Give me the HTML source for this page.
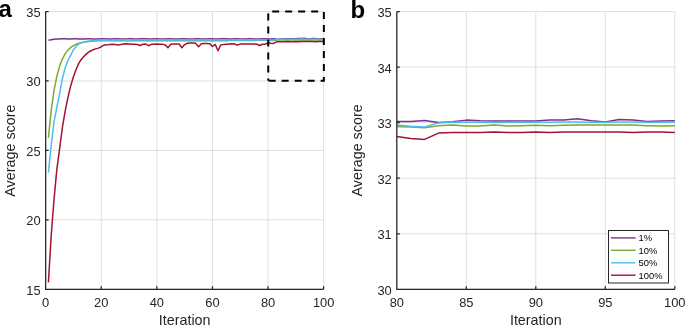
<!DOCTYPE html>
<html lang="en"><head><meta charset="utf-8"><title>Average score vs iteration</title>
<style>html,body{margin:0;padding:0;background:#fff}body{width:685px;height:325px;overflow:hidden}svg{display:block}text{font-family:"Liberation Sans",Arial,Helvetica,sans-serif;fill:#262626}.tk{font-size:12.9px}.lb{font-size:14.33px}.pn{font-size:24px;font-weight:bold;fill:#000}.lg{font-size:9.4px;fill:#000}.grid line{stroke:#dfdfdf;stroke-width:1}.axis{stroke:#262626;stroke-width:1.25;fill:none}.ln{fill:none;stroke-width:1.5;stroke-linejoin:round}</style></head><body>
<svg width="685" height="325" viewBox="0 0 685 325">
<rect width="685" height="325" fill="#fff"/>
<g class="grid">
<line x1="45.65" y1="11.55" x2="45.65" y2="289.30"/>
<line x1="101.25" y1="11.55" x2="101.25" y2="289.30"/>
<line x1="156.85" y1="11.55" x2="156.85" y2="289.30"/>
<line x1="212.45" y1="11.55" x2="212.45" y2="289.30"/>
<line x1="268.05" y1="11.55" x2="268.05" y2="289.30"/>
<line x1="323.65" y1="11.55" x2="323.65" y2="289.30"/>
<line x1="45.65" y1="11.55" x2="323.65" y2="11.55"/>
<line x1="45.65" y1="80.99" x2="323.65" y2="80.99"/>
<line x1="45.65" y1="150.43" x2="323.65" y2="150.43"/>
<line x1="45.65" y1="219.86" x2="323.65" y2="219.86"/>
<line x1="45.65" y1="289.30" x2="323.65" y2="289.30"/>
</g>
<path class="ln" stroke="#7E2F8E" d="M48.43 40.16 L51.21 39.74 L53.99 39.33 L56.77 39.05 L59.55 38.91 L62.33 38.74 L65.11 38.86 L67.89 39.05 L70.67 39.04 L73.45 38.84 L76.23 38.74 L79.01 38.89 L81.79 39.06 L84.57 39.01 L87.35 38.81 L90.13 38.75 L92.91 38.93 L95.69 39.07 L98.47 38.98 L101.25 38.78 L104.03 38.77 L106.81 38.96 L109.59 39.07 L112.37 38.94 L115.15 38.76 L117.93 38.79 L120.71 38.99 L123.49 39.07 L126.27 38.91 L129.05 38.75 L131.83 38.82 L134.61 39.02 L137.39 39.06 L140.17 38.87 L142.95 38.74 L145.73 38.86 L148.51 39.05 L151.29 39.04 L154.07 38.84 L156.85 38.74 L159.63 38.89 L162.41 39.06 L165.19 39.01 L167.97 38.81 L170.75 38.75 L173.53 38.93 L176.31 39.07 L179.09 38.98 L181.87 38.78 L184.65 38.77 L187.43 38.96 L190.21 39.07 L192.99 38.94 L195.77 38.76 L198.55 38.79 L201.33 38.99 L204.11 39.07 L206.89 38.91 L209.67 38.75 L212.45 38.82 L215.23 39.02 L218.01 39.06 L220.79 38.87 L223.57 38.74 L226.35 38.86 L229.13 39.05 L231.91 39.04 L234.69 38.84 L237.47 38.74 L240.25 38.89 L243.03 39.06 L245.81 39.01 L248.59 38.81 L251.37 38.75 L254.15 38.93 L256.93 39.07 L259.71 38.98 L262.49 38.78 L265.27 38.77 L268.05 38.95 L270.83 39.01 L273.61 38.71 L276.39 39.24 L279.17 39.05 L281.95 38.63 L284.73 38.77 L287.51 38.83 L290.29 38.83 L293.07 38.83 L295.85 38.83 L298.63 38.59 L301.41 38.59 L304.19 38.30 L306.97 38.77 L309.75 39.09 L312.53 38.49 L315.31 38.59 L318.09 38.95 L320.87 38.83 L323.65 38.77"/>
<path class="ln" stroke="#77AC30" d="M48.43 137.93 L51.21 110.37 L53.99 90.62 L56.77 76.48 L59.55 66.34 L62.33 59.07 L65.11 53.87 L67.89 50.14 L70.67 47.47 L73.45 45.55 L76.23 44.18 L79.01 43.20 L81.79 42.49 L84.57 41.99 L87.35 41.63 L90.13 41.37 L92.91 41.18 L95.69 40.85 L98.47 40.82 L101.25 40.78 L104.03 40.75 L106.81 40.71 L109.59 40.71 L112.37 40.71 L115.15 40.71 L117.93 40.71 L120.71 40.71 L123.49 40.71 L126.27 40.71 L129.05 40.71 L131.83 40.71 L134.61 40.71 L137.39 40.71 L140.17 40.71 L142.95 40.71 L145.73 40.71 L148.51 40.71 L151.29 40.71 L154.07 40.71 L156.85 40.71 L159.63 40.71 L162.41 40.71 L165.19 40.71 L167.97 40.71 L170.75 40.71 L173.53 40.71 L176.31 40.71 L179.09 40.71 L181.87 40.71 L184.65 40.71 L187.43 40.71 L190.21 40.71 L192.99 40.71 L195.77 40.71 L198.55 40.71 L201.33 40.71 L204.11 40.71 L206.89 40.71 L209.67 40.71 L212.45 40.71 L215.23 40.69 L218.01 40.67 L220.79 40.65 L223.57 40.63 L226.35 40.60 L229.13 40.58 L231.91 40.56 L234.69 40.54 L237.47 40.52 L240.25 40.49 L243.03 40.47 L245.81 40.45 L248.59 40.43 L251.37 40.41 L254.15 40.38 L256.93 40.36 L259.71 40.34 L262.49 40.32 L265.27 40.30 L268.05 40.24 L270.83 40.38 L273.61 40.55 L276.39 40.02 L279.17 39.82 L281.95 40.10 L284.73 40.10 L287.51 39.82 L290.29 40.10 L293.07 40.02 L295.85 39.91 L298.63 40.05 L301.41 39.91 L304.19 39.88 L306.97 39.88 L309.75 39.88 L312.53 39.88 L315.31 39.88 L318.09 40.02 L320.87 40.10 L323.65 40.02"/>
<path class="ln" stroke="#4DBEEE" d="M48.43 172.65 L51.21 145.20 L53.99 121.79 L56.77 107.75 L59.55 93.79 L62.33 78.81 L65.11 68.02 L67.89 60.63 L70.67 55.42 L73.45 49.67 L76.23 46.28 L79.01 43.94 L81.79 42.69 L84.57 41.90 L87.35 41.33 L90.13 40.97 L92.91 40.71 L95.69 40.57 L98.47 40.47 L101.25 40.37 L104.03 40.26 L106.81 40.16 L109.59 40.15 L112.37 40.14 L115.15 40.13 L117.93 40.12 L120.71 40.11 L123.49 40.11 L126.27 40.10 L129.05 40.09 L131.83 40.09 L134.61 40.09 L137.39 40.09 L140.17 40.09 L142.95 40.09 L145.73 40.09 L148.51 40.09 L151.29 40.09 L154.07 40.09 L156.85 40.09 L159.63 40.09 L162.41 40.09 L165.19 40.09 L167.97 40.09 L170.75 40.09 L173.53 40.09 L176.31 40.09 L179.09 40.09 L181.87 40.09 L184.65 40.09 L187.43 40.09 L190.21 40.09 L192.99 40.09 L195.77 40.09 L198.55 40.09 L201.33 40.09 L204.11 40.09 L206.89 40.09 L209.67 40.09 L212.45 40.09 L215.23 40.09 L218.01 40.09 L220.79 40.09 L223.57 40.09 L226.35 41.13 L229.13 40.09 L231.91 40.07 L234.69 40.06 L237.47 40.04 L240.25 40.02 L243.03 40.01 L245.81 39.99 L248.59 39.98 L251.37 39.96 L254.15 39.94 L256.93 39.93 L259.71 39.91 L262.49 39.90 L265.27 39.88 L268.05 39.82 L270.83 40.16 L273.61 40.35 L276.39 39.33 L279.17 39.19 L281.95 39.09 L284.73 39.14 L287.51 39.21 L290.29 39.19 L293.07 39.19 L295.85 39.19 L298.63 39.19 L301.41 39.12 L304.19 39.12 L306.97 39.14 L309.75 39.14 L312.53 39.09 L315.31 39.09 L318.09 39.19 L320.87 39.19 L323.65 39.19"/>
<path class="ln" stroke="#A2142F" d="M48.43 282.36 L51.21 235.20 L53.99 199.86 L56.77 169.95 L59.55 149.36 L62.33 127.66 L65.11 111.29 L67.89 97.78 L70.67 85.93 L73.45 76.66 L76.23 69.01 L79.01 62.93 L81.79 58.76 L84.57 55.65 L87.35 53.12 L90.13 51.23 L92.91 49.83 L95.69 48.87 L98.47 48.11 L101.25 46.73 L104.03 45.02 L106.81 44.88 L109.59 44.46 L112.37 44.19 L115.15 44.60 L117.93 45.02 L120.71 44.60 L123.49 44.05 L126.27 43.77 L129.05 44.05 L131.83 44.32 L134.61 44.19 L137.39 44.46 L140.17 45.44 L142.95 44.32 L145.73 44.05 L148.51 45.71 L151.29 44.32 L154.07 44.19 L156.85 44.05 L159.63 44.19 L162.41 44.32 L165.19 44.88 L167.97 47.80 L170.75 44.32 L173.53 43.91 L176.31 43.91 L179.09 44.05 L181.87 47.80 L184.65 44.60 L187.43 43.21 L190.21 43.07 L192.99 43.07 L195.77 43.35 L198.55 46.82 L201.33 43.77 L204.11 43.49 L206.89 43.49 L209.67 43.63 L212.45 46.41 L215.23 44.46 L218.01 50.71 L220.79 44.88 L223.57 44.46 L226.35 44.19 L229.13 43.91 L231.91 43.77 L234.69 44.05 L237.47 45.16 L240.25 44.05 L243.03 43.91 L245.81 43.91 L248.59 44.05 L251.37 44.05 L254.15 43.91 L256.93 44.32 L259.71 45.44 L262.49 44.32 L265.27 44.19 L268.05 42.74 L270.83 43.24 L273.61 43.45 L276.39 41.87 L279.17 41.73 L281.95 41.73 L284.73 41.73 L287.51 41.57 L290.29 41.73 L293.07 41.73 L295.85 41.57 L298.63 41.73 L301.41 41.57 L304.19 41.57 L306.97 41.57 L309.75 41.57 L312.53 41.57 L315.31 41.73 L318.09 41.57 L320.87 41.57 L323.65 41.73"/>
<path class="axis" d="M45.65 11.55 V289.30 H323.65 M45.65 289.30 v-3 M101.25 289.30 v-3 M156.85 289.30 v-3 M212.45 289.30 v-3 M268.05 289.30 v-3 M323.65 289.30 v-3 M45.65 11.55 h3 M45.65 80.99 h3 M45.65 150.43 h3 M45.65 219.86 h3 M45.65 289.30 h3"/>
<text class="tk" x="45.65" y="306.60" text-anchor="middle">0</text>
<text class="tk" x="101.25" y="306.60" text-anchor="middle">20</text>
<text class="tk" x="156.85" y="306.60" text-anchor="middle">40</text>
<text class="tk" x="212.45" y="306.60" text-anchor="middle">60</text>
<text class="tk" x="268.05" y="306.60" text-anchor="middle">80</text>
<text class="tk" x="323.65" y="306.60" text-anchor="middle">100</text>
<text class="tk" x="40.65" y="16.95" text-anchor="end">35</text>
<text class="tk" x="40.65" y="86.39" text-anchor="end">30</text>
<text class="tk" x="40.65" y="155.83" text-anchor="end">25</text>
<text class="tk" x="40.65" y="225.26" text-anchor="end">20</text>
<text class="tk" x="40.65" y="294.70" text-anchor="end">15</text>
<path d="M268.25 80.69 H323.85 V11.55 H268.25 Z" fill="none" stroke="#000" stroke-width="2" stroke-dasharray="7 6" stroke-dashoffset="-0.4"/>
<text class="lb" x="184.65" y="325.2" text-anchor="middle">Iteration</text>
<text class="lb" transform="translate(14.9 150.62) rotate(-90)" text-anchor="middle">Average score</text>
<text class="pn" x="-1.4" y="17.4">a</text>
<g class="grid">
<line x1="396.80" y1="11.55" x2="396.80" y2="289.30"/>
<line x1="466.30" y1="11.55" x2="466.30" y2="289.30"/>
<line x1="535.80" y1="11.55" x2="535.80" y2="289.30"/>
<line x1="605.30" y1="11.55" x2="605.30" y2="289.30"/>
<line x1="674.80" y1="11.55" x2="674.80" y2="289.30"/>
<line x1="396.80" y1="11.55" x2="674.80" y2="11.55"/>
<line x1="396.80" y1="67.10" x2="674.80" y2="67.10"/>
<line x1="396.80" y1="122.65" x2="674.80" y2="122.65"/>
<line x1="396.80" y1="178.20" x2="674.80" y2="178.20"/>
<line x1="396.80" y1="233.75" x2="674.80" y2="233.75"/>
<line x1="396.80" y1="289.30" x2="674.80" y2="289.30"/>
</g>
<path class="ln" stroke="#7E2F8E" d="M396.80 121.40 L410.70 121.62 L424.60 120.46 L438.50 122.57 L452.40 121.79 L466.30 120.12 L480.20 120.68 L494.10 120.90 L508.00 120.90 L521.90 120.90 L535.80 120.90 L549.70 119.96 L563.60 119.96 L577.50 118.79 L591.40 120.68 L605.30 121.96 L619.20 119.57 L633.10 119.96 L647.00 121.40 L660.90 120.90 L674.80 120.68"/>
<path class="ln" stroke="#77AC30" d="M396.80 126.57 L410.70 127.12 L424.60 127.79 L438.50 125.68 L452.40 124.90 L466.30 126.01 L480.20 126.01 L494.10 124.90 L508.00 126.01 L521.90 125.68 L535.80 125.23 L549.70 125.79 L563.60 125.23 L577.50 125.12 L591.40 125.12 L605.30 125.12 L619.20 125.12 L633.10 125.12 L647.00 125.68 L660.90 126.01 L674.80 125.68"/>
<path class="ln" stroke="#4DBEEE" d="M396.80 124.90 L410.70 126.23 L424.60 127.01 L438.50 122.90 L452.40 122.34 L466.30 121.96 L480.20 122.18 L494.10 122.46 L508.00 122.34 L521.90 122.34 L535.80 122.34 L549.70 122.34 L563.60 122.07 L577.50 122.07 L591.40 122.18 L605.30 122.18 L619.20 121.96 L633.10 121.96 L647.00 122.34 L660.90 122.34 L674.80 122.34"/>
<path class="ln" stroke="#A2142F" d="M396.80 136.57 L410.70 138.57 L424.60 139.40 L438.50 133.07 L452.40 132.51 L466.30 132.51 L480.20 132.51 L494.10 131.90 L508.00 132.51 L521.90 132.51 L535.80 131.90 L549.70 132.51 L563.60 131.90 L577.50 131.90 L591.40 131.90 L605.30 131.90 L619.20 131.90 L633.10 132.51 L647.00 131.90 L660.90 131.90 L674.80 132.51"/>
<path class="axis" d="M396.80 11.55 V289.30 H674.80 M396.80 289.30 v-3 M466.30 289.30 v-3 M535.80 289.30 v-3 M605.30 289.30 v-3 M674.80 289.30 v-3 M396.80 11.55 h3 M396.80 67.10 h3 M396.80 122.65 h3 M396.80 178.20 h3 M396.80 233.75 h3 M396.80 289.30 h3"/>
<text class="tk" x="396.80" y="306.60" text-anchor="middle">80</text>
<text class="tk" x="466.30" y="306.60" text-anchor="middle">85</text>
<text class="tk" x="535.80" y="306.60" text-anchor="middle">90</text>
<text class="tk" x="605.30" y="306.60" text-anchor="middle">95</text>
<text class="tk" x="674.80" y="306.60" text-anchor="middle">100</text>
<text class="tk" x="391.80" y="16.95" text-anchor="end">35</text>
<text class="tk" x="391.80" y="72.50" text-anchor="end">34</text>
<text class="tk" x="391.80" y="128.05" text-anchor="end">33</text>
<text class="tk" x="391.80" y="183.60" text-anchor="end">32</text>
<text class="tk" x="391.80" y="239.15" text-anchor="end">31</text>
<text class="tk" x="391.80" y="294.70" text-anchor="end">30</text>
<text class="lb" x="535.80" y="325.2" text-anchor="middle">Iteration</text>
<text class="lb" transform="translate(362.1 150.43) rotate(-90)" text-anchor="middle">Average score</text>
<text class="pn" x="350.5" y="17.5">b</text>
<rect x="608.5" y="230.5" width="60" height="52.5" fill="#fff" stroke="#262626" stroke-width="1"/>
<line x1="611" y1="237.90" x2="635.6" y2="237.90" stroke="#7E2F8E" stroke-width="1.4"/>
<text class="lg" x="638.6" y="241.30">1%</text>
<line x1="611" y1="250.30" x2="635.6" y2="250.30" stroke="#77AC30" stroke-width="1.4"/>
<text class="lg" x="638.6" y="253.70">10%</text>
<line x1="611" y1="262.80" x2="635.6" y2="262.80" stroke="#4DBEEE" stroke-width="1.4"/>
<text class="lg" x="638.6" y="266.20">50%</text>
<line x1="611" y1="275.20" x2="635.6" y2="275.20" stroke="#A2142F" stroke-width="1.4"/>
<text class="lg" x="638.6" y="278.60">100%</text>
</svg></body></html>
